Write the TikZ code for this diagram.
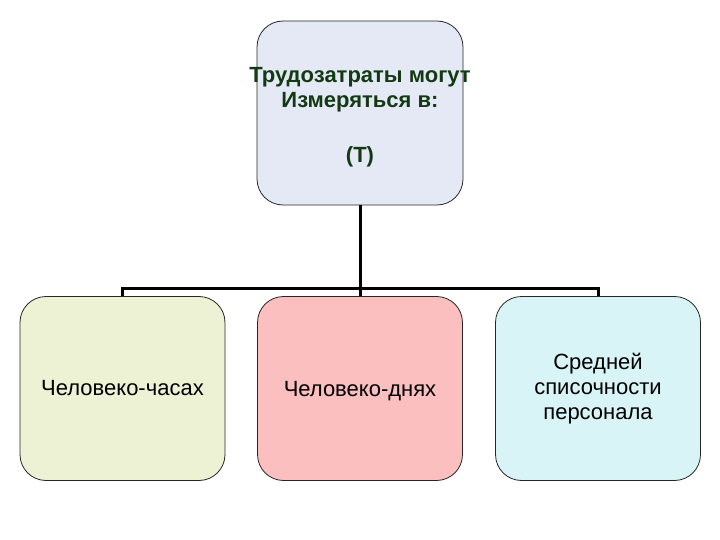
\documentclass[tikz,border=0pt]{standalone}
\usepackage{fontspec}
\setmainfont{Liberation Sans}
\definecolor{fondHaut}{RGB}{228,233,245}
\definecolor{fondA}{RGB}{238,242,213}
\definecolor{fondB}{RGB}{251,191,191}
\definecolor{fondC}{RGB}{217,244,246}
\definecolor{vertFonce}{RGB}{20,58,20}
\begin{document}
\begin{tikzpicture}[x=1pt,y=-1pt]
	% Styles (MODIFIABLES)
	\tikzstyle{lien}=[-,line width=3pt,black]
	\tikzstyle{boite}=[draw=black!85,line width=0.8pt,rounded corners=26pt,minimum width=205pt,minimum height=184pt,inner sep=0pt]
	\tikzstyle{texte}=[align=center,font=\fontsize{22}{25}\selectfont]
	\tikzstyle{titre}=[texte,font=\fontsize{22}{25}\selectfont\bfseries,text=vertFonce]
	% Dimensions (MODIFIABLES)
	\def\NiveauHaut{113}
	\def\NiveauBas{388.5}
	\def\NiveauJonction{288}
	\useasboundingbox (0,0) rectangle (720,540);
	% Noeuds
	\node[boite,fill=fondHaut,minimum width=206pt] (T) at (360,\NiveauHaut) {};
	\node[titre] (Tt) at ([yshift=-4pt]T.center) {Трудозатраты могут\\Измеряться в:\\[30pt](Т)};
	\node[boite,fill=fondA] (Ha) at (122.5,\NiveauBas) {};
	\node[texte] (Hat) at (Ha.center) {Человеко-часах};
	\node[boite,fill=fondB] (Hb) at (360,\NiveauBas) {};
	\node[texte,text depth=0pt] (Hbt) at (Hb.center) {Человеко-днях};
	\node[boite,fill=fondC] (Hc) at (598,\NiveauBas) {};
	\node[texte] (Hct) at (Hc.center) {Средней\\списочности\\персонала};
	\coordinate (J) at (360,\NiveauJonction);
	% Arcs
	\draw[lien] (T.south)--(Hb.north);
	\draw[lien] (Ha.north) |- (J) -| (Hc.north);
\end{tikzpicture}
\end{document}
